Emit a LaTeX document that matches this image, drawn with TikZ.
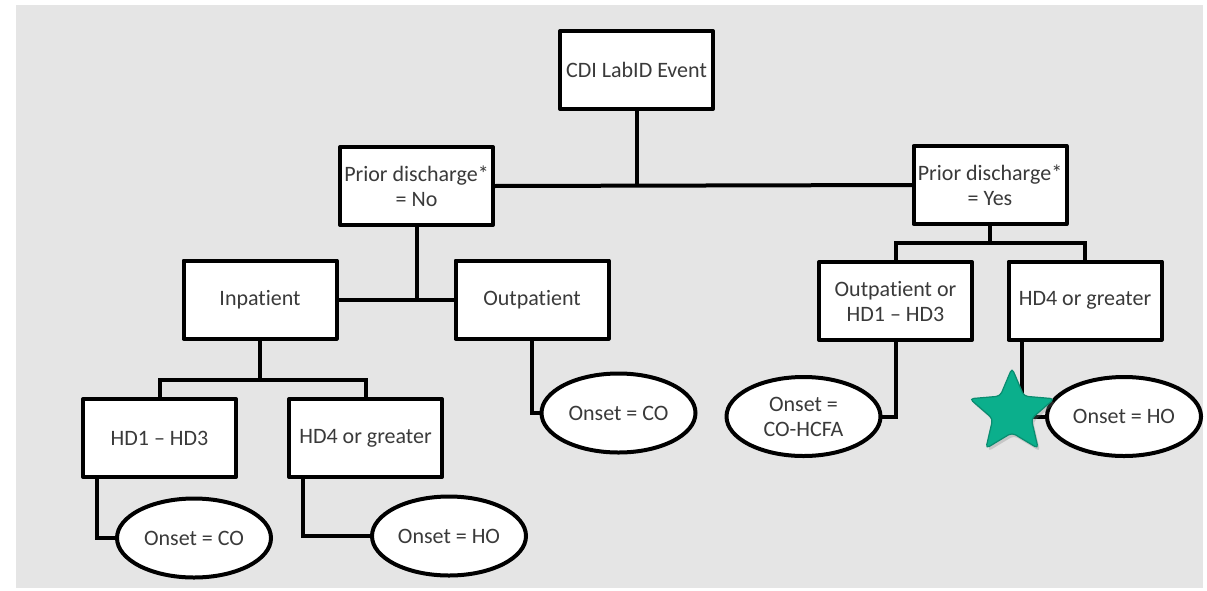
\documentclass[tikz,border=0pt]{standalone}
\usepackage{fontspec}
\setmainfont{Carlito}[Ligatures={NoCommon}]
\usetikzlibrary{shapes.geometric,shadows}
\definecolor{bg}{HTML}{E5E5E5}
\definecolor{txt}{HTML}{3A3A3A}
\definecolor{starfill}{HTML}{0BAF8C}
\definecolor{starline}{HTML}{0A8C70}
\tikzset{
  box/.style={draw=black, fill=white, line width=4pt, line join=round, minimum width=153pt, minimum height=78pt, inner sep=0pt, outer sep=0pt, align=center, text=txt, font=\fontsize{22}{25}\selectfont},
  oval/.style={ellipse, draw=black, fill=white, line width=4pt, minimum width=154pt, minimum height=79pt, inner sep=0pt, outer sep=0pt, align=center, text=txt, font=\fontsize{22}{25}\selectfont},
  conn/.style={draw=black, line width=4pt},
}
\begin{document}
\begin{tikzpicture}[x=1pt, y=-1pt]
\useasboundingbox (0,0) rectangle (1207,590);
\fill[bg] (16,5) rectangle (1203,588);
% boxes
\node[box] (cdi) at (636.5,70) {CDI LabID Event};
\node[box] (no) at (416.5,186) {Prior discharge*\\= No};
\node[box] (yes) at (990,185) {Prior discharge*\\= Yes};
\node[box] (inpat) at (260,299.5) {Inpatient};
\node[box] (outpat) at (532,299.5) {Outpatient};
\node[box] (hda) at (159.5,438) {HD1 – HD3};
\node[box] (hdb) at (365.5,438) {HD4 or greater};
\node[box] (outor) at (895.5,301) {Outpatient or\\HD1 – HD3};
\node[box] (hdc) at (1085,300.5) {HD4 or greater};
% ovals
\node[oval] (e1) at (194,538) {Onset = CO};
\node[oval] (e2) at (449,536) {Onset = HO};
\node[oval] (e3) at (618.5,413) {Onset = CO};
\node[oval] (e4) at (803.5,416.5) {Onset =\\CO-HCFA};
\node[oval] (e5) at (1124,416.5) {Onset = HO};
% branch points
\coordinate (bl) at (260,380);
\coordinate (br) at (990,243);
% connectors
\draw[conn] (cdi.south) -- (cdi.south |- no.east);
\draw[conn] (no.east) -- (yes.west);
\draw[conn] (no.south) -- (no.south |- inpat.east);
\draw[conn] (inpat.east) -- (outpat.west);
\draw[conn] (inpat.south) -- (bl);
\draw[conn] (hda.north) |- (bl) -| (hdb.north);
\draw[conn] (yes.south) -- (br);
\draw[conn] (outor.north) |- (br) -| (hdc.north);
\draw[conn] ([xshift=14pt]hda.south west) |- (e1.west);
\draw[conn] ([xshift=14pt]hdb.south west) |- (e2.west);
\draw[conn] (outpat.south) |- (e3.west);
\draw[conn] (outor.south) |- (e4.east);
\draw[conn] ([xshift=13pt]hdc.south west) |- (e5.west);
% star
\node[star, star points=5, star point ratio=2.2, minimum size=89pt, inner sep=0pt, fill=starfill, draw=starline, line width=1.2pt, rounded corners=4pt, drop shadow={opacity=0.3, shadow xshift=2pt, shadow yshift=-3pt}] (st) at (1012,412.5) {};
\end{tikzpicture}
\end{document}
